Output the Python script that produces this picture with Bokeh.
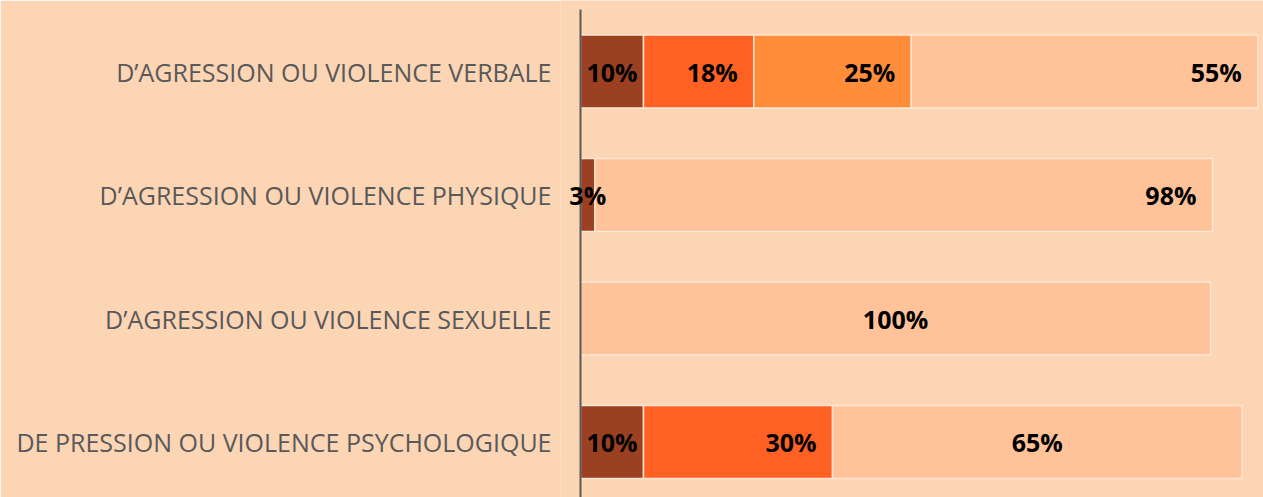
from bokeh.plotting import figure
from bokeh.models import Range1d, FixedTicker, Label
from bokeh.embed import file_html
from bokeh.resources import INLINE

categories = [
    "DE PRESSION OU VIOLENCE PSYCHOLOGIQUE",
    "D\u2019AGRESSION OU VIOLENCE SEXUELLE",
    "D\u2019AGRESSION OU VIOLENCE PHYSIQUE",
    "D\u2019AGRESSION OU VIOLENCE VERBALE",
]
# segments per category (bottom to top)
seg_values = [
    [10, 30, 65],
    [100],
    [2.3, 98],
    [10, 17.5, 25, 55],
]
seg_labels = [
    ["10%", "30%", "65%"],
    ["100%"],
    ["3%", "98%"],
    ["10%", "18%", "25%", "55%"],
]
seg_colors = [
    ["#9B4121", "#FF6124", "#FFC299"],
    ["#FFC299"],
    ["#9B4121", "#FFC299"],
    ["#9B4121", "#FF6124", "#FF8D3A", "#FFC299"],
]
label_modes = [
    ["center", "end", "center"],
    ["center"],
    ["center", "end"],
    ["center", "end", "end", "end"],
]

bg = "#FCD5B5"
y_lo, y_axis_top, y_hi = -0.449, 3.502, 3.575
p = figure(width=1263, height=497, output_backend="svg", toolbar_location=None,
           x_range=Range1d(-3.175, 108.4), y_range=Range1d(y_lo, y_hi),
           min_border_top=0, min_border_bottom=0, min_border_right=0, min_border_left=560,
           background_fill_color=bg, border_fill_color=bg, outline_line_color=None)
p.xaxis.visible = False
p.grid.visible = False

l, r, yy, cols = [], [], [], []
for i, vals in enumerate(seg_values):
    acc = 0
    for j, v in enumerate(vals):
        l.append(acc); r.append(acc + v); yy.append(i); cols.append(seg_colors[i][j])
        if label_modes[i][j] == "center":
            lab = Label(x=acc + v / 2, y=i, text=seg_labels[i][j], text_align="center")
        else:
            lab = Label(x=acc + v, y=i, text=seg_labels[i][j], text_align="right", x_offset=-16)
        lab.text_font = "Open Sans"
        lab.text_font_style = "bold"
        lab.text_font_size = "25px"
        lab.text_color = "#000000"
        lab.text_baseline = "middle"
        lab.level = "overlay"
        p.add_layout(lab)
        acc += v

p.hbar(y=yy, left=l, right=r, height=0.59, fill_color=cols,
       line_color="#FDE6D4", line_width=1.5)

# category axis line at value 0
p.segment(x0=[0], y0=[y_lo], x1=[0], y1=[y_axis_top], line_color="#595959", line_width=2)

ax = p.yaxis[0]
ax.ticker = FixedTicker(ticks=[0, 1, 2, 3])
ax.major_label_overrides = {i: c for i, c in enumerate(categories)}
ax.major_tick_line_color = None
ax.minor_tick_line_color = None
ax.axis_line_color = None
ax.major_label_standoff = 3
ax.major_label_text_font = "Open Sans"
ax.major_label_text_font_size = "25px"
ax.major_label_text_color = "#595959"

open("out.html", "w").write(file_html(p, INLINE))
